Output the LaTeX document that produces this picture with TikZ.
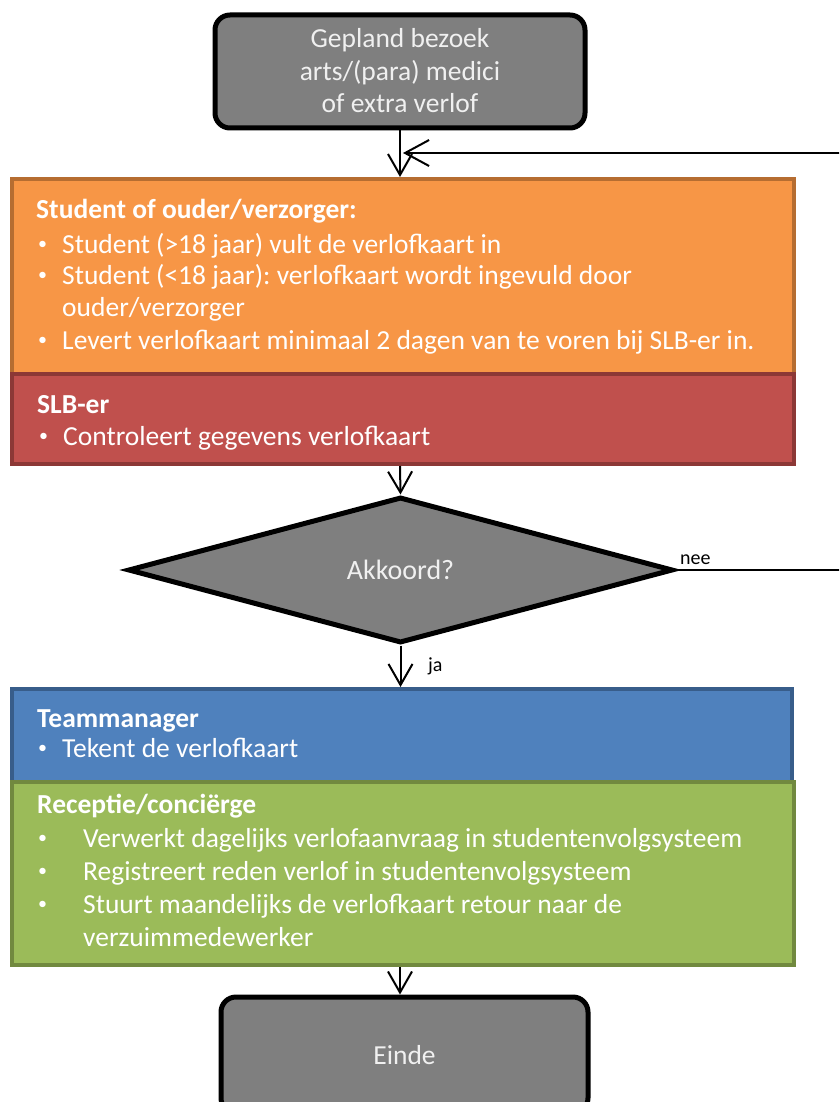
\documentclass[tikz,border=0pt]{standalone}
\usepackage{fontspec}
\setmainfont{Carlito}
\frenchspacing
\usetikzlibrary{arrows.meta,shapes.geometric}
\definecolor{termgray}{HTML}{7F7F7F}
\definecolor{lighttext}{HTML}{F0F0F0}
\definecolor{orfill}{HTML}{F79646}
\definecolor{ordraw}{HTML}{B66D31}
\definecolor{rdfill}{HTML}{C0504D}
\definecolor{rddraw}{HTML}{8C3836}
\definecolor{blfill}{HTML}{4F81BD}
\definecolor{bldraw}{HTML}{385D8A}
\definecolor{grfill}{HTML}{9BBB59}
\definecolor{grdraw}{HTML}{71893F}
% small bullet followed by a fixed indent
\newcommand{\itemdot}[1]{\makebox[#1][l]{\raisebox{3.5pt}{\fontsize{18}{18}\selectfont •}}}
\begin{document}
\begin{tikzpicture}[x=1pt,y=-1pt,
  terminal/.style={draw=black, line width=5pt, fill=termgray, rounded corners=15pt,
    text=lighttext, align=center, inner sep=0pt,
    font=\fontsize{27.5}{33}\selectfont},
  termtext/.style={anchor=base, inner sep=0pt, text=lighttext,
    font=\fontsize{27.5}{33}\selectfont},
  lane/.style={line width=4pt, anchor=north west, inner sep=0pt},
  line/.style={anchor=base west, inner sep=0pt, text=white,
    font=\fontsize{27.5}{33}\selectfont},
  head/.style={line, font=\fontsize{27.5}{33}\selectfont\bfseries},
  decision/.style={diamond, draw=black, line width=5pt, fill=termgray,
    text=lighttext, inner sep=0pt, font=\fontsize{28}{32}\selectfont},
  flow/.style={line width=2pt, -{Straight Barb[length=21pt,width=24pt,line width=2pt]}},
  tag/.style={anchor=base west, inner sep=0pt, font=\fontsize{20}{24}\selectfont}]
\clip (0,0) rectangle (839,1102);

% start and end terminals
\node[terminal, minimum width=370pt, minimum height=113pt] (start) at (400,71.5) {};
\node[termtext] (s1) at (400,48) {Gepland bezoek};
\node[termtext] (s2) at (400,81) {arts/(para) medici};
\node[termtext] (s3) at (400,113) {of extra verlof};
\node[terminal, minimum width=367pt, minimum height=116pt] (stop) at (404.5,1055) {Einde};

% orange lane: student or parent
\node[lane, draw=ordraw, fill=orfill, minimum width=782pt, minimum height=195pt] (orange) at (10,177) {};
\node[head] (o0) at (36,218) {Student of ouder/verzorger:};
\node[line] (o1) at (38,253) {\itemdot{24pt}Student (>18 jaar) vult de verlofkaart in};
\node[line] (o2) at (38,284) {\itemdot{24pt}Student (<18 jaar): verlofkaart wordt ingevuld door};
\node[line] (o3) at (62,316) {ouder/verzorger};
\node[line] (o4) at (38,349) {\itemdot{24pt}Levert verlofkaart minimaal 2 dagen van te voren bij SLB-er in.};

% red lane: SLB-er
\node[lane, draw=rddraw, fill=rdfill, minimum width=782pt, minimum height=90pt] (red) at (10,372) {};
\node[head] (r0) at (37,413) {SLB-er};
\node[line] (r1) at (39,445) {\itemdot{24pt}Controleert gegevens verlofkaart};

% decision
\node[decision, minimum width=545pt, minimum height=146pt] (ok) at (400.5,570) {Akkoord?};

% blue lane: team manager
\node[lane, draw=bldraw, fill=blfill, minimum width=780pt, minimum height=93pt] (blue) at (10,687) {};
\node[head] (b0) at (37,727) {Teammanager};
\node[line] (b1) at (38,757) {\itemdot{24pt}Tekent de verlofkaart};

% green lane: reception
\node[lane, draw=grdraw, fill=grfill, minimum width=782pt, minimum height=183pt] (green) at (10,780) {};
\node[head] (g0) at (37,813) {Receptie/conciërge};
\node[line] (g1) at (38,847) {\itemdot{45pt}Verwerkt dagelijks verlofaanvraag in studentenvolgsysteem};
\node[line] (g2) at (38,880) {\itemdot{45pt}Registreert reden verlof in studentenvolgsysteem};
\node[line] (g3) at (38,913) {\itemdot{45pt}Stuurt maandelijks de verlofkaart retour naar de};
\node[line] (g4) at (83,946) {verzuimmedewerker};

% connectors
\coordinate (join) at (403,153);
\draw[flow] (start.south) -- (orange.north -| start.south);
\draw[flow] (red.south -| start.south) -- (ok.north);
\draw[flow] (ok.south) -- (blue.north -| ok.south);
\draw[flow] (green.south -| start.south) -- (stop.north -| start.south);
\draw[line width=2pt, -{Straight Barb[length=24pt,width=26pt,line width=2pt]}]
  (ok.east) -- (880,570) |- (join);

% branch labels
\node[tag] (nee) at (680,564) {nee};
\node[tag] (ja) at (428,671) {ja};
\end{tikzpicture}
\end{document}
